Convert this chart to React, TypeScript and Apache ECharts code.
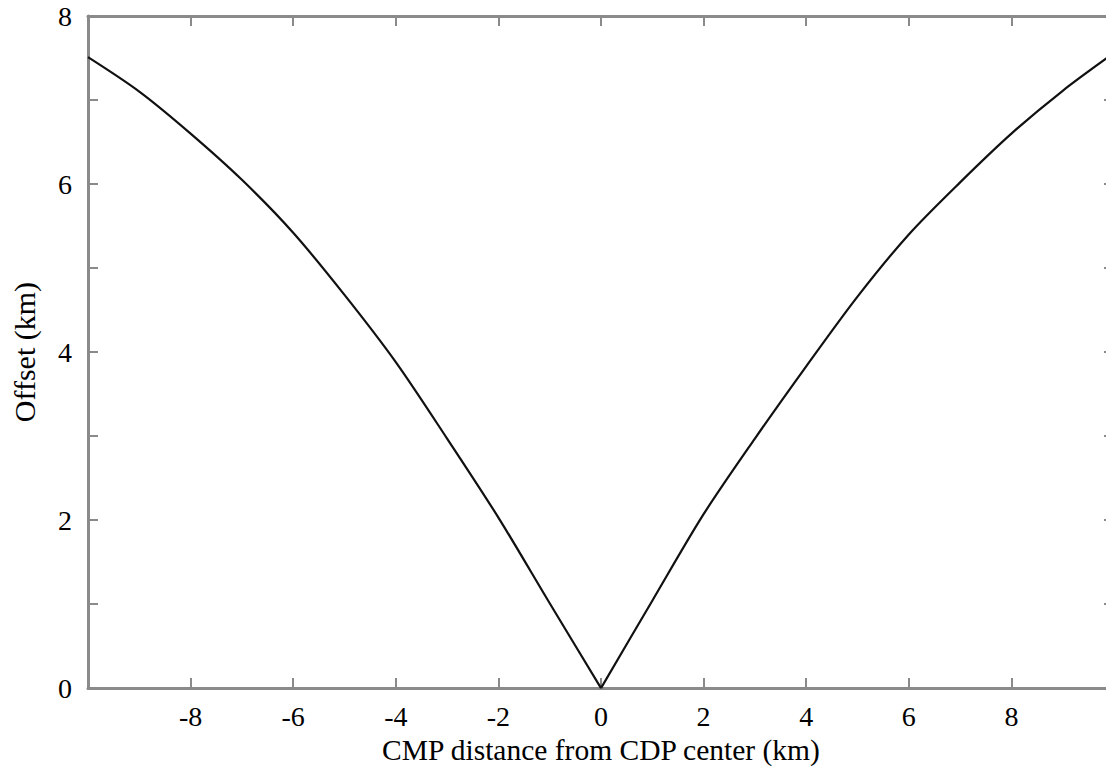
import React, { useEffect, useRef } from "react";
import * as echarts from "echarts";

const leftX = [-10, -9, -8, -7, -6, -5, -4, -3, -2, -1, 0];
const leftY = [7.51, 7.1, 6.6, 6.05, 5.42, 4.68, 3.88, 2.97, 2.03, 1.01, 0];
const rightX = [0, 1, 2, 3, 4, 5, 6, 7, 8, 9, 10];
const rightY = [0, 1.04, 2.07, 2.97, 3.83, 4.66, 5.4, 6.02, 6.6, 7.11, 7.56];

const xTitle = "CMP distance from CDP center (km)";
const yTitle = "Offset (km)";

const FONT = "'Liberation Serif', 'Times New Roman', serif";
const AXIS_COLOR = "#8a8a8a";

export default function App() {
  const ref = useRef<HTMLDivElement>(null);
  useEffect(() => {
    if (!ref.current) return;
    const chart = echarts.init(ref.current, undefined, { renderer: "svg" });
    const axisLine = { show: true, onZero: false, lineStyle: { color: AXIS_COLOR, width: 3 } };
    const axisTick = { show: true, inside: true, length: 10, lineStyle: { color: AXIS_COLOR, width: 2 } };
    chart.setOption({
      animation: false,
      backgroundColor: "#ffffff",
      grid: { left: 88, top: 16, right: 16, bottom: 78, containLabel: false },
      xAxis: [
        {
          type: "value",
          position: "bottom",
          min: -10,
          max: 10,
          interval: 2,
          axisLine,
          axisTick,
          splitLine: { show: false },
          axisLabel: {
            margin: 14,
            color: "#000",
            fontFamily: FONT,
            fontSize: 28,
            formatter: (v: number) => (v === -10 || v === 10 ? "" : String(v)),
          },
          name: xTitle,
          nameLocation: "middle",
          nameGap: 45,
          nameTextStyle: { color: "#000", fontFamily: FONT, fontSize: 29.5 },
        },
        {
          type: "value",
          position: "top",
          min: -10,
          max: 10,
          interval: 2,
          axisLine,
          axisTick,
          splitLine: { show: false },
          axisLabel: { show: false },
        },
      ],
      yAxis: [
        {
          type: "value",
          position: "left",
          min: 0,
          max: 8,
          interval: 1,
          axisLine,
          axisTick,
          splitLine: { show: false },
          axisLabel: {
            margin: 16,
            color: "#000",
            fontFamily: FONT,
            fontSize: 28,
            formatter: (v: number) => (v % 2 === 0 ? String(v) : ""),
          },
          name: yTitle,
          nameLocation: "middle",
          nameGap: 49,
          nameTextStyle: { color: "#000", fontFamily: FONT, fontSize: 30 },
        },
        {
          type: "value",
          position: "right",
          min: 0,
          max: 8,
          interval: 1,
          axisLine,
          axisTick,
          splitLine: { show: false },
          axisLabel: { show: false },
        },
      ],
      series: [
        {
          type: "line",
          data: leftX.map((x, i) => [x, leftY[i]]),
          showSymbol: false,
          smooth: 0.3,
          lineStyle: { color: "#111", width: 2.2 },
        },
        {
          type: "line",
          data: rightX.map((x, i) => [x, rightY[i]]),
          showSymbol: false,
          smooth: 0.3,
          lineStyle: { color: "#111", width: 2.2 },
        },
      ],
    });
    return () => chart.dispose();
  }, []);
  return (
    <div
      style={{
        position: "fixed",
        left: 0,
        top: 0,
        width: 1106,
        height: 770,
        overflow: "hidden",
        background: "#fff",
      }}
    >
      <div ref={ref} style={{ width: 1130, height: 770 }} />
    </div>
  );
}
